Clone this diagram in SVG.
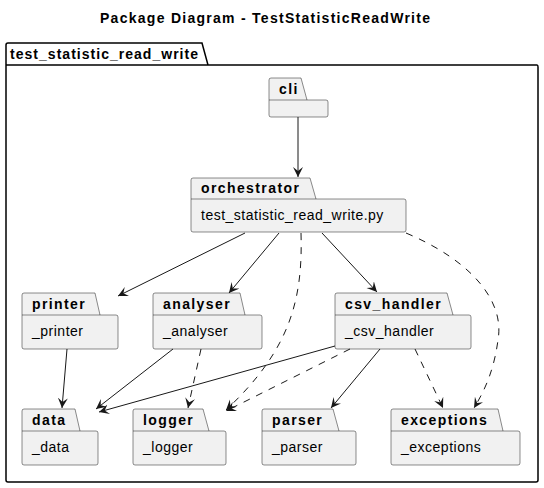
<svg xmlns="http://www.w3.org/2000/svg" width="544" height="488" viewBox="0 0 544 488">
<style>
.t{font-family:"Liberation Sans",Arial,sans-serif;font-size:14px;font-weight:bold;letter-spacing:1.4px;fill:#000}
.b{font-family:"Liberation Sans",Arial,sans-serif;font-size:14px;letter-spacing:0.5px;fill:#000}
.p{fill:#F1F1F1;stroke:#181818;stroke-width:0.5}
.e{fill:none;stroke:#181818;stroke-width:1}
.d{stroke-dasharray:7,7}
</style>
<defs>
<marker id="a" markerWidth="12" markerHeight="12" refX="10" refY="5" orient="auto" markerUnits="userSpaceOnUse">
<path d="M0,0 L10,5 L0,10 L4,5 Z" fill="#181818"/>
</marker>
</defs>
<rect width="544" height="488" fill="#fff"/>
<text x="100" y="23" class="t" textLength="330" lengthAdjust="spacing" style="letter-spacing:normal">Package Diagram - TestStatisticReadWrite</text>
<g id="test_statistic_read_write">
<path d="M8,43 L202,43 L208,65 L537,65 Q538,65 538,67 L538,480 Q538,482 536,482 L8,482 Q6,482 6,480 L6,45 Q6,43 8,43 Z M6,65 L208,65" fill="none" stroke="#000" stroke-width="1.5"/>
<text x="10" y="59" class="t" textLength="188" lengthAdjust="spacing" style="letter-spacing:normal">test_statistic_read_write</text>
</g>
<g id="cli">
<path class="p" d="M271,78 L301,78 L307,100 L326,100 Q328,100 328,102 L328,115 Q328,117 326,117 L271,117 Q269,117 269,115 L269,80 Q269,78 271,78 Z M269,100 L307,100"/>
<text x="279" y="94" class="t">cli</text>
</g>
<g id="orchestrator">
<path class="p" d="M193,178 L310,178 L316,199 L404,199 Q406,199 406,201 L406,230 Q406,232 404,232 L193,232 Q191,232 191,230 L191,180 Q191,178 193,178 Z M191,199 L316,199"/>
<text x="201" y="193" class="t">orchestrator</text>
<text x="201" y="220" class="b">test_statistic_read_write.py</text>
</g>
<g id="printer">
<path class="p" d="M24,293 L95,293 L100,315 L116,315 Q118,315 118,317 L118,347 Q118,349 116,349 L24,349 Q22,349 22,347 L22,295 Q22,293 24,293 Z M22,315 L100,315"/>
<text x="32" y="309" class="t">printer</text>
<text x="32" y="336" class="b">_printer</text>
</g>
<g id="analyser">
<path class="p" d="M155,293 L240,293 L245,315 L260,315 Q262,315 262,317 L262,347 Q262,349 260,349 L155,349 Q153,349 153,347 L153,295 Q153,293 155,293 Z M153,315 L245,315"/>
<text x="163" y="309" class="t">analyser</text>
<text x="163" y="336" class="b">_analyser</text>
</g>
<g id="csv_handler">
<path class="p" d="M337,293 L447,293 L453,315 L469,315 Q471,315 471,317 L471,347 Q471,349 469,349 L337,349 Q335,349 335,347 L335,295 Q335,293 337,293 Z M335,315 L453,315"/>
<text x="345" y="309" class="t">csv_handler</text>
<text x="345" y="336" class="b">_csv_handler</text>
</g>
<g id="data">
<path class="p" d="M24,409 L75,409 L80,431 L96,431 Q98,431 98,433 L98,463 Q98,465 96,465 L24,465 Q22,465 22,463 L22,411 Q22,409 24,409 Z M22,431 L80,431"/>
<text x="32" y="425" class="t">data</text>
<text x="32" y="452" class="b">_data</text>
</g>
<g id="logger">
<path class="p" d="M135,409 L203,409 L209,431 L224,431 Q226,431 226,433 L226,463 Q226,465 224,465 L135,465 Q133,465 133,463 L133,411 Q133,409 135,409 Z M133,431 L209,431"/>
<text x="143" y="425" class="t">logger</text>
<text x="143" y="452" class="b">_logger</text>
</g>
<g id="parser">
<path class="p" d="M264,409 L333,409 L339,431 L354,431 Q356,431 356,433 L356,463 Q356,465 354,465 L264,465 Q262,465 262,463 L262,411 Q262,409 264,409 Z M262,431 L339,431"/>
<text x="272" y="425" class="t">parser</text>
<text x="272" y="452" class="b">_parser</text>
</g>
<g id="exceptions">
<path class="p" d="M393,409 L498,409 L503,431 L518,431 Q520,431 520,433 L520,463 Q520,465 518,465 L393,465 Q391,465 391,463 L391,411 Q391,409 393,409 Z M391,431 L503,431"/>
<text x="401" y="425" class="t">exceptions</text>
<text x="401" y="452" class="b">_exceptions</text>
</g>
<g id="connectors">
<path class="e" d="M298,117 L298,177" marker-end="url(#a)"/>
<path class="e" d="M245,233 L118,296" marker-end="url(#a)"/>
<path class="e" d="M279,233 L229,293" marker-end="url(#a)"/>
<path class="e" d="M322,233 L377,292" marker-end="url(#a)"/>
<path class="e d" d="M301,233 C303,300 290,350 226,410" marker-end="url(#a)"/>
<path class="e d" d="M406,233 C470,260 505,300 498,340 C494,370 485,390 474,408" marker-end="url(#a)"/>
<path class="e" d="M67,349 L62,408" marker-end="url(#a)"/>
<path class="e" d="M173,349 L96,409" marker-end="url(#a)"/>
<path class="e d" d="M201,349 L188,408" marker-end="url(#a)"/>
<path class="e" d="M335,346 L99,412" marker-end="url(#a)"/>
<path class="e d" d="M350,349 L226,411" marker-end="url(#a)"/>
<path class="e" d="M380,349 L331,408" marker-end="url(#a)"/>
<path class="e d" d="M415,349 L443,408" marker-end="url(#a)"/>
</g>
</svg>
